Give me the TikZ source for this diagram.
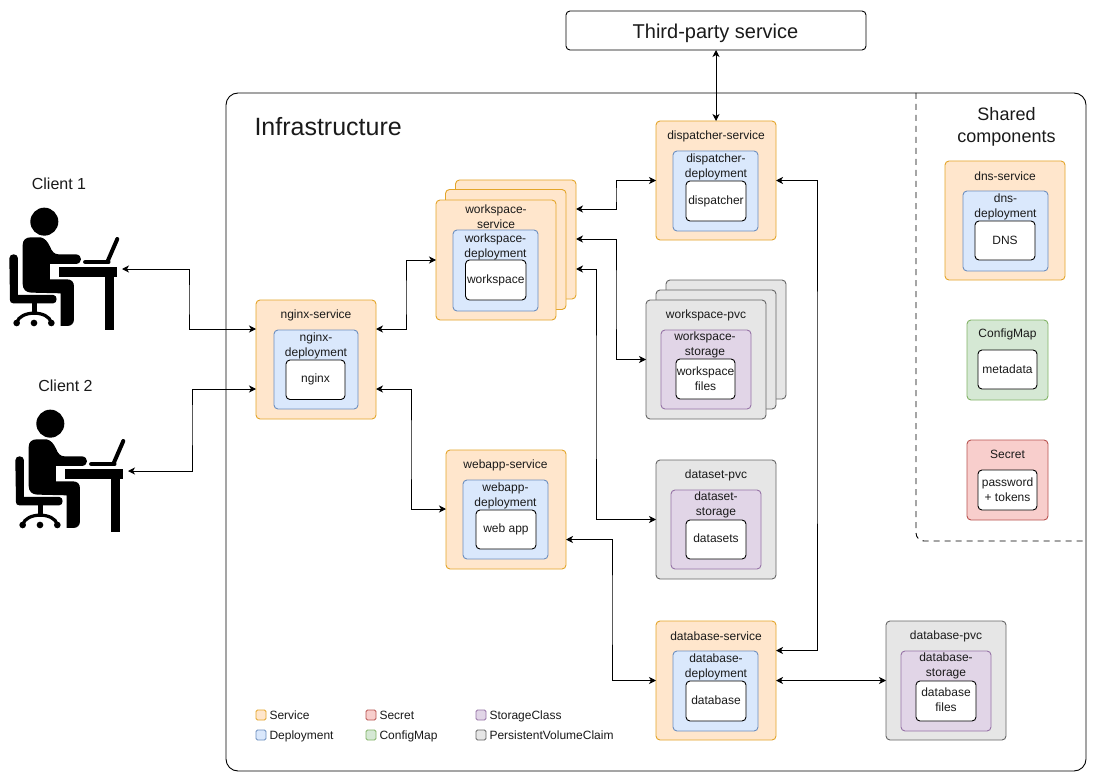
\documentclass[tikz,border=0pt]{standalone}
\usepackage{fontspec}
\setmainfont{Liberation Sans}
\usetikzlibrary{arrows.meta}
\definecolor{ink}{HTML}{1A1A1A}
\tikzset{
  x=1pt,y=-1pt,
  every node/.style={font=\fontsize{12}{15}\selectfont,text=ink,align=center,inner sep=0pt,outer sep=0pt},
  rbox/.style={rectangle,rounded corners=4pt,draw,line width=0.9pt},
  svc/.style={rbox,fill=svcF,draw=svcD},
  dep/.style={rbox,fill=depF,draw=depD},
  sto/.style={rbox,fill=stoF,draw=stoD},
  pvc/.style={rbox,fill=pvcF,draw=pvcD},
  cfg/.style={rbox,fill=cfgF,draw=cfgD},
  sec/.style={rbox,fill=secF,draw=secD},
  app/.style={rbox,fill=white,draw=black},
  boxtitle/.style={yshift=-1pt},
  link/.style={draw=black,line width=0.9pt,{Stealth[length=7pt,width=7pt,inset=2pt]}-{Stealth[length=7pt,width=7pt,inset=2pt]},rounded corners=0pt},
  swatch/.style={rectangle,rounded corners=1.5pt,line width=0.9pt,minimum width=10pt,minimum height=10pt},
  legendtext/.style={anchor=base west,font=\fontsize{12}{14}\selectfont},
}
\definecolor{svcF}{HTML}{FFE6CC}\definecolor{svcD}{HTML}{E3A52A}
\definecolor{depF}{HTML}{DAE8FC}\definecolor{depD}{HTML}{6C8EBF}
\definecolor{stoF}{HTML}{E1D5E7}\definecolor{stoD}{HTML}{9673A6}
\definecolor{pvcF}{HTML}{E6E6E6}\definecolor{pvcD}{HTML}{666666}
\definecolor{cfgF}{HTML}{D5E8D4}\definecolor{cfgD}{HTML}{82B366}
\definecolor{secF}{HTML}{F8CECC}\definecolor{secD}{HTML}{B85450}
% \bx{style}{name}{x0}{y0}{x1}{y1}{text}
\newcommand{\bx}[7]{%
  \pgfmathsetmacro{\bxw}{#5-#3}\pgfmathsetmacro{\bxh}{#6-#4}%
  \pgfmathsetmacro{\bxcx}{(#3+#5)/2}\pgfmathsetmacro{\bxcy}{(#4+#6)/2}%
  \node[#1,minimum width=\bxw pt,minimum height=\bxh pt] (#2) at (\bxcx,\bxcy) {#7};%
}
\newcommand{\person}{%
  \fill (133,185) circle (42);
  \fill (68,255) .. controls (68,240) and (78,232) .. (92,232) -- (122,232) .. controls (135,235) and (143,245) .. (150,260) .. controls (156,275) and (163,283) .. (176,283) -- (228,283) .. controls (248,285) and (248,310) .. (228,312) -- (150,312) -- (150,358) -- (200,358) .. controls (215,358) and (222,366) .. (222,380) -- (222,478) .. controls (222,490) and (214,498) .. (202,498) -- (182,498) -- (182,400) -- (95,398) .. controls (78,398) and (68,388) .. (68,372) -- cycle;
  \fill (28,295) .. controls (28,279) and (54,279) .. (54,295) -- (54,405) -- (160,405) .. controls (173,405) and (173,430) .. (160,430) -- (40,430) .. controls (33,430) and (30,426) .. (30,420) -- cycle;
  \fill (95,430) rectangle (110,460);
  \draw[line width=3.2pt] (50,488) .. controls (60,450) and (145,450) .. (154,488);
  \fill (50,489) circle (10) (102,489) circle (10) (154,489) circle (10);
  \fill (177,322) rectangle (351,351);
  \fill (316,351) rectangle (342,510);
  \draw[line width=4.5pt,line cap=round] (256,306) -- (325,306);
  \draw[line width=4pt,line cap=round] (322,306) -- (352,237);
}
\begin{document}
\begin{tikzpicture}
\useasboundingbox (0,0) rectangle (1098,781);
\fill[white] (0,0) rectangle (1098,781);
% infrastructure frame
\bx{rectangle,rounded corners=12pt,draw=black,line width=0.9pt}{infra}{226}{93}{1086}{771}{}
\draw[black,line width=0.9pt,dash pattern=on 6pt off 5pt,rounded corners=8pt] (916,93) -- (916,541) -- (1086,541);
\node[anchor=west,font=\fontsize{25}{29}\selectfont] (infratitle) at (254.5,127) {Infrastructure};
\node[font=\fontsize{18}{22.5}\selectfont] (sharedtitle) at (1006.5,127) {Shared\\components};
% clients
\node (client1) at (59,183.5) {\fontsize{16}{18}\selectfont Client 1};
\node (client2) at (65.5,385.5) {\fontsize{16}{18}\selectfont Client 2};
\begin{scope}[shift={(0,160)},x=0.3333pt,y=-0.3333pt,black]\person\end{scope}
\begin{scope}[shift={(6,362)},x=0.3333pt,y=-0.3333pt,black]\person\end{scope}
\coordinate (c1pt) at (122,269);
\coordinate (c2pt) at (128,471);
% third party
\bx{rectangle,rounded corners=4pt,draw=black,line width=0.9pt,fill=white}{third}{566}{11}{866}{50}{}
\node[font=\fontsize{20}{24}\selectfont] at (715.5,33) {Third-party service};
% nginx
\bx{svc}{nginx}{256}{300}{376}{419}{}
\node[boxtitle] at (316,314) {nginx-service};
\bx{dep}{nginxd}{274}{330}{358}{409}{}
\node[boxtitle] at (316,345) {nginx-\\deployment};
\bx{app}{nginxa}{286}{360}{345}{399.5}{nginx}
% workspace stack
\bx{svc}{wsb}{455.5}{180}{576}{299}{}
\bx{svc}{wsm}{445.5}{189.5}{566}{309.5}{}
\bx{svc}{ws}{436}{200}{556}{320}{}
\node[boxtitle] at (496,215.5) {workspace-\\service};
\bx{dep}{wsd}{453}{230}{538}{311}{}
\node[boxtitle] at (495.5,245.5) {workspace-\\deployment};
\bx{app}{wsa}{465.5}{260}{526}{300}{workspace}
% dispatcher
\bx{svc}{disp}{656}{121}{776}{240}{}
\node[boxtitle] at (716,135) {dispatcher-service};
\bx{dep}{dispd}{673}{151}{758}{231}{}
\node[boxtitle] at (716,165.5) {dispatcher-\\deployment};
\bx{app}{dispa}{686}{181}{746}{221}{dispatcher}
% workspace pvc
\bx{pvc}{wpb}{666}{280}{786}{399}{}
\bx{pvc}{wpm}{656}{290}{776}{409}{}
\bx{pvc}{wp}{646}{300}{766}{419}{}
\node[boxtitle] at (706,314) {workspace-pvc};
\bx{sto}{wps}{661}{330}{751}{409}{}
\node[boxtitle] at (705,344) {workspace-\\storage};
\bx{app}{wpa}{676}{359}{735}{399}{workspace\\files}
% dataset pvc
\bx{pvc}{dp}{656}{460}{776}{579}{}
\node[boxtitle] at (716,474) {dataset-pvc};
\bx{sto}{dps}{671}{490}{761}{569}{}
\node[boxtitle] at (716,503.5) {dataset-\\storage};
\bx{app}{dpa}{686}{520}{746}{559}{}
\node at (716,538.5) {datasets};
% webapp
\bx{svc}{web}{446}{450}{566}{569}{}
\node[boxtitle] at (505.5,464) {webapp-service};
\bx{dep}{webd}{463}{480}{548}{559}{}
\node[boxtitle] at (505.5,494.5) {webapp-\\deployment};
\bx{app}{weba}{476}{510}{536}{549}{web app}
% database
\bx{svc}{db}{656}{621}{776}{740}{}
\node[boxtitle] at (716,635) {database-service};
\bx{dep}{dbd}{673}{651}{758}{731}{}
\node[boxtitle] at (716,665.5) {database-\\deployment};
\bx{app}{dba}{686}{681}{746}{721}{}
\node at (716,700) {database};
% database pvc
\bx{pvc}{dbp}{886}{621}{1006}{740}{}
\node[boxtitle] at (946,635) {database-pvc};
\bx{sto}{dbps}{901}{651}{991}{731}{}
\node[boxtitle] at (946,665) {database-\\storage};
\bx{app}{dbpa}{916}{681}{976}{721}{}
\node at (946,699.5) {database\\files};
% dns
\bx{svc}{dns}{945}{161}{1065}{280}{}
\node[boxtitle] at (1005,175) {dns-service};
\bx{dep}{dnsd}{963}{191}{1048}{271}{}
\node[boxtitle] at (1005.5,206) {dns-\\deployment};
\bx{app}{dnsa}{975}{221}{1035}{260}{DNS}
% configmap
\bx{cfg}{cm}{967}{320}{1048}{400}{}
\node at (1007.5,334.5) {ConfigMap};
\bx{app}{cma}{978}{350}{1037}{389}{metadata}
% secret
\bx{sec}{secr}{967}{440}{1048}{520}{}
\node at (1007.5,454) {Secret};
\bx{app}{seca}{978}{470}{1037}{510}{password\\+ tokens}
% connectors
\draw[link] (c1pt) -| (189,300) |- ([yshift=30.5pt]nginx.west);
\draw[link] (c2pt) -| (192,420) |- ([yshift=-29.5pt]nginx.west);
\draw[link] ([yshift=30.5pt]nginx.east) -| (406,300) |- (ws.west);
\draw[link] ([yshift=-29.5pt]nginx.east) -| (411,450) |- ([yshift=0.5pt]web.west);
\draw[link] ([yshift=30.5pt]wsb.east) -| (616,195) |- (disp.west);
\draw[link] ([yshift=0.5pt]wsb.east) -| (616,300) |- (wp.west);
\draw[link] ([yshift=-29.5pt]wsb.east) -| (596,400) |- (dp.west);
\draw[link] (disp.east) -| (817,400) |- ([yshift=30pt]db.east);
\draw[link] ([yshift=-30pt]web.east) -| (612,610) |- (db.west);
\draw[link] (db.east) -- (dbp.west);
\draw[link] (third.south -| disp.north) -- (disp.north);
% legend
\node[swatch,draw=svcD,fill=svcF] (l1) at (261,715) {};
\node[legendtext] at (269.5,719) {Service};
\node[swatch,draw=depD,fill=depF] (l2) at (261,735) {};
\node[legendtext] at (269.5,739) {Deployment};
\node[swatch,draw=secD,fill=secF] (l3) at (371,715) {};
\node[legendtext] at (379.5,719) {Secret};
\node[swatch,draw=cfgD,fill=cfgF] (l4) at (371,735) {};
\node[legendtext] at (379.5,739) {ConfigMap};
\node[swatch,draw=stoD,fill=stoF] (l5) at (481,715) {};
\node[legendtext] at (489.5,719) {StorageClass};
\node[swatch,draw=pvcD,fill=pvcF] (l6) at (481,735) {};
\node[legendtext] at (489.5,739) {PersistentVolumeClaim};
\end{tikzpicture}
\end{document}
